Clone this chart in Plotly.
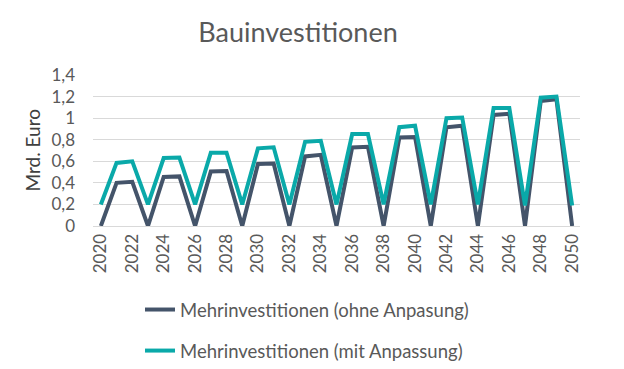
import plotly.graph_objects as go

years = list(range(2020, 2051))
ohne = [0, 0.40, 0.41, 0, 0.455, 0.46, 0, 0.505, 0.51, 0, 0.575, 0.58, 0, 0.645, 0.66, 0,
        0.728, 0.735, 0, 0.82, 0.825, 0, 0.915, 0.93, 0, 1.03, 1.04, 0, 1.16, 1.175, 0]
mit = [0.2, 0.585, 0.6, 0.2, 0.63, 0.635, 0.2, 0.68, 0.68, 0.2, 0.72, 0.73, 0.2, 0.78, 0.79, 0.2,
       0.853, 0.853, 0.2, 0.916, 0.93, 0.2, 1.0, 1.006, 0.2, 1.094, 1.094, 0.19, 1.19, 1.2, 0.19]
tick_years = list(range(2020, 2051, 2))
y_ticks = [0, 0.2, 0.4, 0.6, 0.8, 1.0, 1.2, 1.4]
y_labels = ["0", "0,2", "0,4", "0,6", "0,8", "1", "1,2", "1,4"]

gray = "#595959"
fig = go.Figure()
fig.add_trace(go.Scatter(x=years, y=ohne, mode="lines", name="Mehrinvestitionen (ohne Anpasung)",
                         legendgroup="a", line=dict(color="#44546a", width=4)))
fig.add_trace(go.Scatter(x=years, y=mit, mode="lines", name="Mehrinvestitionen (mit Anpassung)",
                         legendgroup="b", line=dict(color="#0aa9a9", width=4)))
fig.update_layout(
    width=624, height=369,
    margin=dict(l=85, r=52, t=67, b=151, autoexpand=False),
    paper_bgcolor="white", plot_bgcolor="white",
    font=dict(family="Lato, Calibri, sans-serif", color=gray, size=16),
    title=dict(text="Bauinvestitionen", x=290 / 624, xanchor="center", xref="container",
               y=1 - 25 / 369, yanchor="middle", yref="container",
               font=dict(size=27, color=gray)),
    xaxis=dict(range=[2019.5, 2050.5], tickmode="array", tickvals=tick_years,
               ticktext=[str(y) for y in tick_years], tickangle=-90, showgrid=False,
               showline=True, linecolor="#d9d9d9", ticks="", zeroline=False,
               automargin=False, tickfont=dict(size=17, color=gray)),
    yaxis=dict(range=[0, 1.4], tickmode="array", tickvals=y_ticks, ticktext=y_labels,
               showgrid=True, gridcolor="#d9d9d9", gridwidth=1, zeroline=False,
               automargin=False, ticklabelstandoff=17,
               tickfont=dict(size=17, color=gray)),
    annotations=[dict(text="Mrd. Euro", xref="paper", yref="paper", x=0, y=0.5,
                      xshift=-61, textangle=-90, showarrow=False, xanchor="center",
                      yanchor="middle", font=dict(size=19, color="#404040"))],
    legend=dict(orientation="v", xref="container", x=132 / 624, xanchor="left",
                yref="container", y=1 - 283 / 369, yanchor="top",
                font=dict(size=18.5, color=gray), tracegroupgap=14),
    showlegend=True,
)
fig.write_html("out.html")
